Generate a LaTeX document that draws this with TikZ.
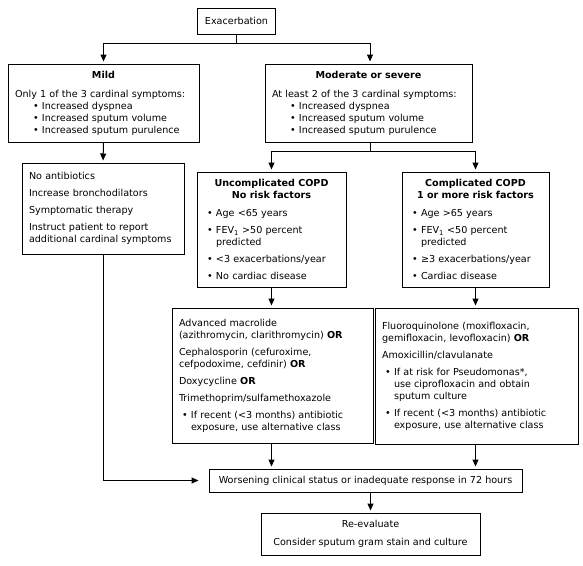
\documentclass[tikz,border=0pt]{standalone}
\usepackage{fontspec}
\setmainfont{DejaVu Sans}
\usetikzlibrary{arrows.meta}
\newcommand{\bitem}[1]{\par\hangindent=12pt\hangafter=1\noindent\makebox[12pt][l]{\hspace{3pt}\textbullet}#1}
\newcommand{\gap}{\par\vspace{5pt}}
\begin{document}
\begin{tikzpicture}[x=1pt,y=-1pt,
  box/.style={draw, line width=1pt, inner xsep=7pt, inner ysep=2pt,
    font=\fontsize{9.6}{12}\selectfont,
    execute at begin node={\setlength{\parskip}{0pt}\setlength{\parindent}{0pt}}},
  conn/.style={line width=1pt},
  arr/.style={conn, -{Triangle[length=7pt,width=6pt]}, shorten >=2pt}]
\useasboundingbox (0,0) rectangle (583,565);

\node[box, align=center, minimum width=77pt, minimum height=26pt] (exa) at (236.5,21) {Exacerbation};

\node[box, text width=177pt, minimum height=78pt] (mild) at (103.5,103) {%
  {\centering\bfseries Mild\par}\vspace{7pt}
  \raggedright Only 1 of the 3 cardinal symptoms:\par
  \leftskip=15pt
  \bitem{Increased dyspnea}\bitem{Increased sputum volume}\bitem{Increased sputum purulence}\par};

\node[box, text width=193pt, minimum height=78pt] (mod) at (368.5,103) {%
  {\centering\bfseries Moderate or severe\par}\vspace{7pt}
  \raggedright At least 2 of the 3 cardinal symptoms:\par
  \leftskip=15pt
  \bitem{Increased dyspnea}\bitem{Increased sputum volume}\bitem{Increased sputum purulence}\par};

\node[box, text width=148pt, minimum height=91pt] (noanti) at (103,208.5) {%
  \raggedright No antibiotics\gap Increase bronchodilators\gap Symptomatic therapy\gap
  Instruct patient to report\\additional cardinal symptoms\par};

\node[box, text width=135pt, minimum height=115pt] (unc) at (271.5,229.5) {%
  {\centering\bfseries Uncomplicated COPD\\No risk factors\par}\vspace{6pt}
  \raggedright
  \bitem{Age <65 years}\gap
  \bitem{FEV\textsubscript{1} >50 percent\newline predicted}\gap
  \bitem{<3 exacerbations/year}\gap
  \bitem{No cardiac disease}\par};

\node[box, text width=133pt, minimum height=115pt] (comp) at (475.5,229.5) {%
  {\centering\bfseries Complicated COPD\\1 or more risk factors\par}\vspace{6pt}
  \raggedright
  \bitem{Age >65 years}\gap
  \bitem{FEV\textsubscript{1} <50 percent\newline predicted}\gap
  \bitem{≥3 exacerbations/year}\gap
  \bitem{Cardiac disease}\par};

\node[box, text width=187pt, minimum height=135pt] (mac) at (272.5,375.5) {%
  \raggedright Advanced macrolide\\(azithromycin, clarithromycin) \textbf{OR}\gap
  Cephalosporin (cefuroxime,\\cefpodoxime, cefdinir) \textbf{OR}\gap
  Doxycycline \textbf{OR}\gap
  Trimethoprim/sulfamethoxazole\gap
  \bitem{If recent (<3 months) antibiotic\newline exposure, use alternative class}\par};

\node[box, text width=189pt, minimum height=136pt] (flu) at (476.5,376) {%
  \raggedright Fluoroquinolone (moxifloxacin,\\gemifloxacin, levofloxacin) \textbf{OR}\gap
  Amoxicillin/clavulanate\gap
  \bitem{If at risk for Pseudomonas*,\newline use ciprofloxacin and obtain\newline sputum culture}\gap
  \bitem{If recent (<3 months) antibiotic\newline exposure, use alternative class}\par};

\node[box, align=center, minimum width=313pt, minimum height=23pt] (wors) at (365.5,480.5) {Worsening clinical status or inadequate response in 72 hours};

\node[box, align=center, minimum width=219pt, minimum height=42pt] (reev) at (370.5,534) {Re-evaluate\\[6pt]Consider sputum gram stain and culture};

\coordinate (s1) at (236.5,43);
\coordinate (s2) at (370,151);

\draw[conn] (exa.south) -- (s1);
\draw[arr] (s1) -| (mild.north);
\draw[arr] (s1) -| (mod.north -| s2);
\draw[arr] (mild.south) -- (noanti.north);
\draw[conn] (mod.south -| s2) -- (s2);
\draw[arr] (s2) -| (unc.north);
\draw[arr] (s2) -| (comp.north);
\draw[arr] (unc.south) -- (unc.south |- mac.north);
\draw[arr] (comp.south) -- (comp.south |- flu.north);
\draw[arr] (unc.south |- mac.south) -- (unc.south |- wors.north);
\draw[arr] (comp.south |- flu.south) -- (comp.south |- wors.north);
\draw[arr, shorten >=10pt] (noanti.south) |- (wors.west);
\draw[arr] (reev.north |- wors.south) -- (reev.north);
\end{tikzpicture}
\end{document}
